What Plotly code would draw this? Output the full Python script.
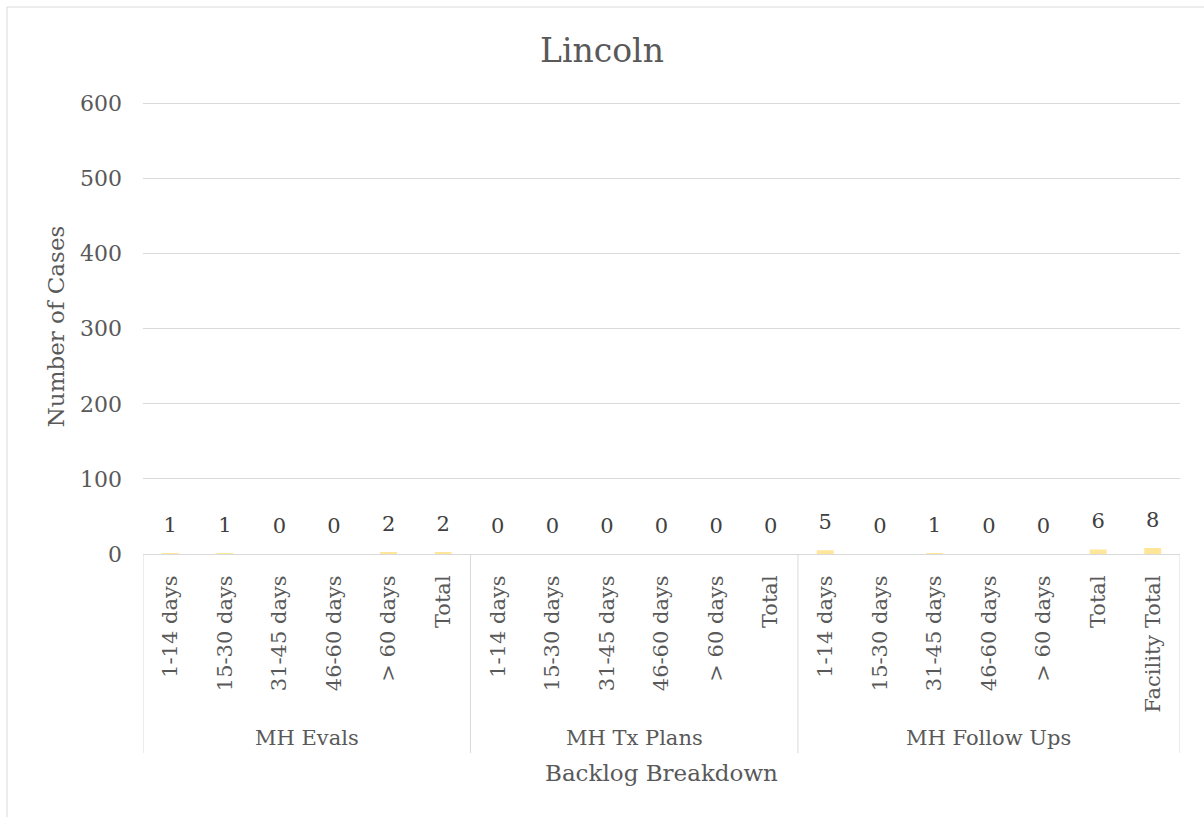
import plotly.graph_objects as go

group_names = ["MH Evals", "MH Tx Plans", "MH Follow Ups"]
group_sizes = [6, 6, 7]
categories = ["1-14 days", "15-30 days", "31-45 days", "46-60 days", "> 60 days", "Total",
              "1-14 days", "15-30 days", "31-45 days", "46-60 days", "> 60 days", "Total",
              "1-14 days", "15-30 days", "31-45 days", "46-60 days", "> 60 days", "Total",
              "Facility Total"]
values = [1, 1, 0, 0, 2, 2,
          0, 0, 0, 0, 0, 0,
          5, 0, 1, 0, 0, 6, 8]
y_ticks = [0, 100, 200, 300, 400, 500, 600]

FONT = "DejaVu Serif"
TXT = "#595959"
GRID = "#D9D9D9"

positions = list(range(len(categories)))

fig = go.Figure()
fig.add_trace(go.Bar(
    x=positions,
    y=values,
    marker=dict(color="#FFE699", line=dict(width=0)),
    hoverinfo="y",
))
fig.add_trace(go.Scatter(
    x=positions,
    y=values,
    mode="markers+text",
    text=[str(v) for v in values],
    textposition="top center",
    marker=dict(size=24, color="rgba(0,0,0,0)"),
    textfont=dict(family=FONT, size=21, color="#404040"),
    cliponaxis=False,
    hoverinfo="skip",
))

L, R, T, B = 143, 24, 99, 263
PW, PH = 1204 - L - R, 817 - T - B

def px_x(px):
    return (px - L) / PW

def px_y(py):
    return (817 - B - py) / PH

bounds = [-0.5]
for s in group_sizes:
    bounds.append(bounds[-1] + s)

annotations = []
shapes = []
for i, name in enumerate(group_names):
    annotations.append(dict(
        text=name, xref="x", yref="paper",
        x=(bounds[i] + bounds[i + 1]) / 2, y=px_y(738),
        xanchor="center", yanchor="middle", showarrow=False,
        font=dict(family=FONT, size=21, color=TXT),
    ))
for b in bounds:
    shapes.append(dict(
        type="line", xref="x", yref="paper",
        x0=b, x1=b, y0=0, y1=px_y(753),
        line=dict(color=GRID, width=1),
    ))

annotations.append(dict(
    text="Backlog Breakdown", xref="paper", yref="paper",
    x=0.5, y=px_y(773), xanchor="center", yanchor="middle", showarrow=False,
    font=dict(family=FONT, size=23, color=TXT),
))
shapes.append(dict(
    type="rect", xref="paper", yref="paper",
    x0=px_x(7), x1=px_x(1215), y0=px_y(830), y1=px_y(7),
    line=dict(color=GRID, width=1), fillcolor="rgba(0,0,0,0)", layer="below",
))

fig.update_layout(
    width=1204, height=817,
    margin=dict(l=L, r=R, t=T, b=B),
    paper_bgcolor="white", plot_bgcolor="white",
    font=dict(family=FONT, color=TXT, size=21),
    bargap=0.69,
    showlegend=False,
    title=dict(text="Lincoln", x=0.5, xanchor="center", y=1 - 50 / 817, yanchor="middle",
               font=dict(family=FONT, size=33, color=TXT)),
    xaxis=dict(
        range=[-0.5, len(categories) - 0.5],
        tickvals=positions, ticktext=categories,
        showline=True, linecolor=GRID, linewidth=1,
        showgrid=False, zeroline=False, ticks="",
        tickangle=-90,
        tickfont=dict(family=FONT, size=21, color=TXT),
        ticklabelstandoff=12,
    ),
    yaxis=dict(
        range=[0, 606],
        tickvals=y_ticks,
        showgrid=True, gridcolor=GRID, gridwidth=1,
        zeroline=False, showline=False, ticks="",
        tickfont=dict(family=FONT, size=22, color=TXT),
        ticklabelstandoff=20,
        title=dict(text="Number of Cases", font=dict(family=FONT, size=23, color=TXT), standoff=8),
    ),
    annotations=annotations,
    shapes=shapes,
)

fig.write_html("out.html")
